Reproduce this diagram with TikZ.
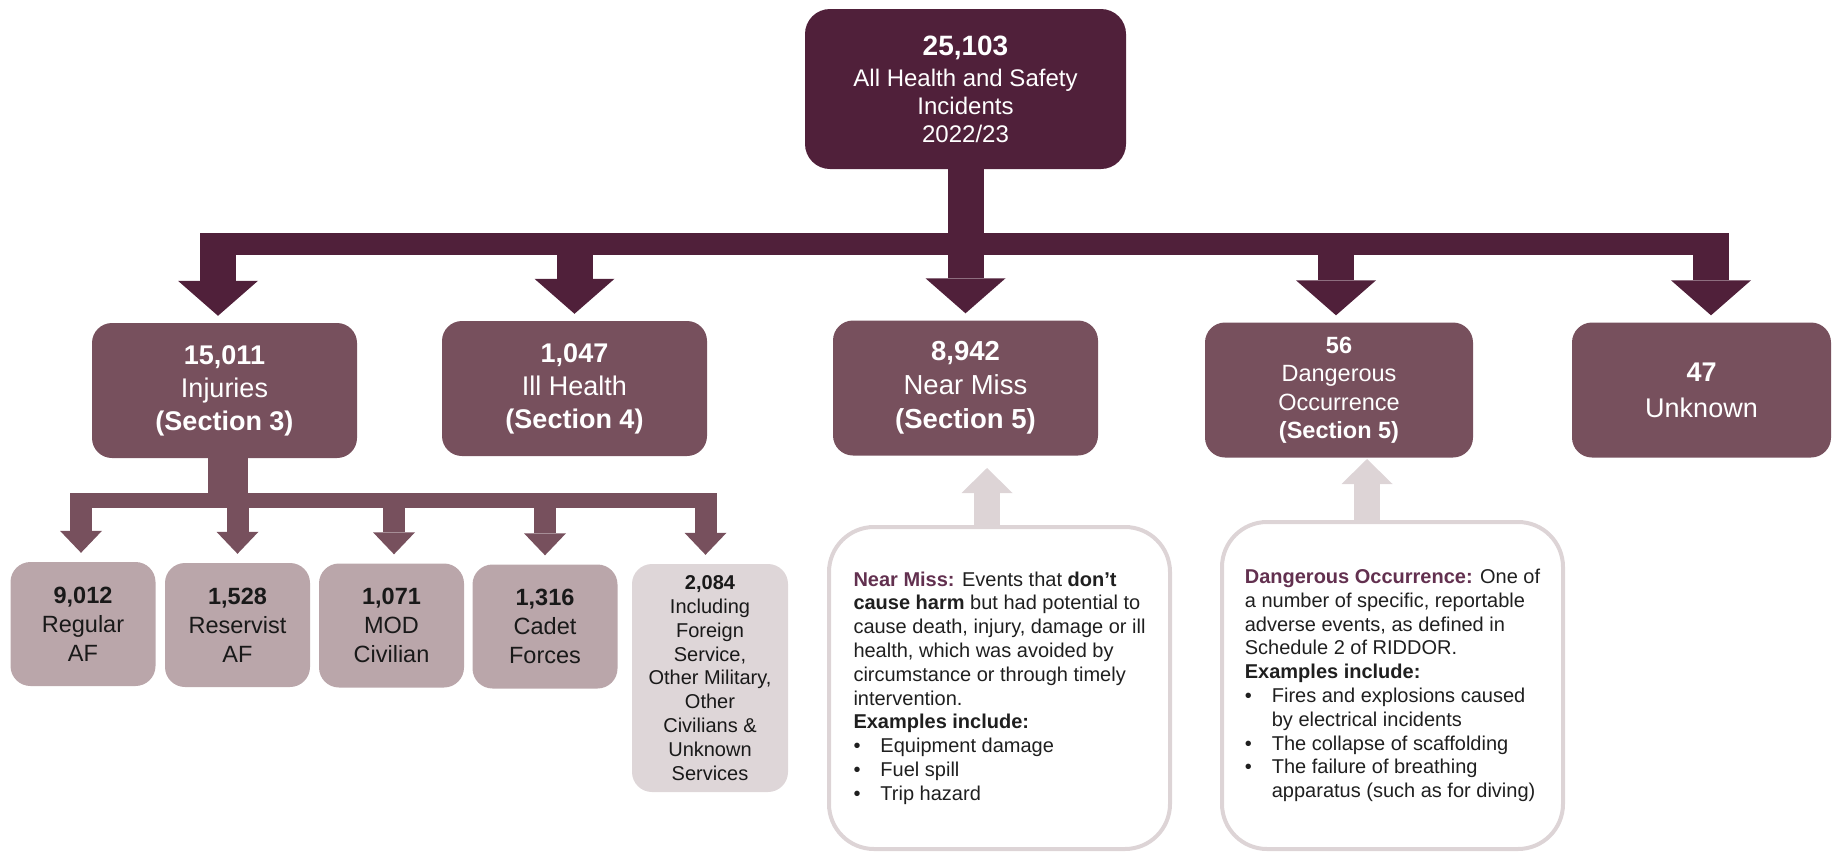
\documentclass[tikz,border=0pt]{standalone}
\usepackage{fontspec}
\setmainfont{Liberation Sans}
\usetikzlibrary{arrows.meta,calc}

\definecolor{plumdark}{HTML}{50203A}
\definecolor{plummid}{HTML}{77505D}
\definecolor{plumlight}{HTML}{BAA6AA}
\definecolor{plumpale}{HTML}{DED6D8}
\definecolor{greyline}{HTML}{DDD4D6}
\definecolor{plumlabel}{HTML}{62304F}

\newcommand{\bul}{\makebox[27pt][l]{\textbullet}}

\tikzset{
    topbox/.style={fill=plumdark, text=white, rounded corners=25pt, minimum width=321pt, minimum height=160pt, align=center, font=\fontsize{24}{28}\selectfont},
    catbox/.style={fill=plummid, text=white, rounded corners=20pt, minimum width=265pt, minimum height=135pt, align=center, font=\fontsize{27}{33}\selectfont},
    subbox/.style={fill=plumlight, text=black!90, rounded corners=20pt, minimum width=145pt, minimum height=124pt, align=center, font=\fontsize{23.5}{29}\selectfont},
    notebox/.style={draw=greyline, line width=4pt, rounded corners=45pt, minimum width=341pt, text=black!88, align=left, font=\fontsize{20}{23.8}\selectfont},
    mainarrow/.style={plumdark, line width=36pt, -{Triangle[width=80pt,length=35pt,line width=0pt]}},
    mainbar/.style={plumdark, line width=22pt},
    subarrow/.style={plummid, line width=22pt, -{Triangle[width=42pt,length=22pt,line width=0pt]}},
    subbar/.style={plummid, line width=15pt},
    uparrow/.style={greyline, line width=26pt, -{Triangle[width=51pt,length=25pt,line width=0pt]}}
}

\begin{document}
\begin{tikzpicture}[x=1pt, y=-1pt]
    \useasboundingbox (0,0) rectangle (1833,854);

    % totals
    \node[topbox] (top) at (965.5,89) {\textbf{\fontsize{28}{31}\selectfont 25,103}\\[3pt] All Health and Safety\\ Incidents\\ 2022/23};

    \node[catbox] (inj) at (224.5,390.5) {\textbf{15,011}\\ Injuries\\ \textbf{(Section 3)}};
    \node[catbox] (ill) at (574.5,388.5) {\textbf{1,047}\\ Ill Health\\ \textbf{(Section 4)}};
    \node[catbox, font=\fontsize{27.5}{34}\selectfont] (nm) at (965.5,388) {\textbf{8,942}\\ Near Miss\\ \textbf{(Section 5)}};
    \node[catbox, minimum width=268pt, font=\fontsize{23.5}{28.5}\selectfont] (dang) at (1339,390) {\textbf{56}\\ Dangerous\\ Occurrence\\ \textbf{(Section 5)}};
    \node[catbox, minimum width=259pt, font=\fontsize{27}{36}\selectfont] (unkn) at (1701.5,390) {\textbf{47}\\ Unknown};

    % injuries by service
    \node[subbox] (reg) at (83,624) {\textbf{9,012}\\ Regular\\ AF};
    \node[subbox] (res) at (237.5,625) {\textbf{1,528}\\ Reservist\\ AF};
    \node[subbox] (civ) at (391.5,625.5) {\textbf{1,071}\\ MOD\\ Civilian};
    \node[subbox] (cad) at (545,626.5) {\textbf{1,316}\\ Cadet\\ Forces};
    \node[subbox, fill=plumpale, minimum width=156pt, minimum height=228pt, font=\fontsize{20}{23.8}\selectfont] (oth) at (710,678) {\textbf{2,084}\\ Including\\ Foreign\\ Service,\\ Other Military,\\ Other\\ Civilians \&\\ Unknown\\ Services};

    % definitions
    \node[notebox, minimum height=322pt] (nmnote) at (999.5,688) {\textcolor{plumlabel}{\textbf{Near Miss:}} Events that \textbf{don't}\\
        \textbf{cause harm} but had potential to\\
        cause death, injury, damage or ill\\
        health, which was avoided by\\
        circumstance or through timely\\
        intervention.\\
        \textbf{Examples include:}\\
        \bul Equipment damage\\
        \bul Fuel spill\\
        \bul Trip hazard};
    \node[notebox, minimum height=327pt] (donote) at (1392.5,685.5) {\textcolor{plumlabel}{\textbf{Dangerous Occurrence:}} One of\\
        a number of specific, reportable\\
        adverse events, as defined in\\
        Schedule 2 of RIDDOR.\\
        \textbf{Examples include:}\\
        \bul Fires and explosions caused\\
        \hspace*{27pt}by electrical incidents\\
        \bul The collapse of scaffolding\\
        \bul The failure of breathing\\
        \hspace*{27pt}apparatus (such as for diving)};

    % main arrows
    \coordinate (junction) at (965.5,244);
    \draw[mainarrow] (top.south) -- ([yshift=7pt]nm.north);
    \draw[mainbar] ([xshift=-24.5pt]inj.north |- junction) -- ([xshift=27.5pt]unkn.north |- junction);
    \draw[mainarrow] ([xshift=-6.5pt]inj.north |- junction) -- ([xshift=-6.5pt,yshift=7pt]inj.north);
    \draw[mainarrow] (ill.north |- junction) -- ([yshift=7pt]ill.north);
    \draw[mainarrow] ([xshift=-3pt]dang.north |- junction) -- ([xshift=-3pt,yshift=7pt]dang.north);
    \draw[mainarrow] ([xshift=9.5pt]unkn.north |- junction) -- ([xshift=9.5pt,yshift=7pt]unkn.north);

    % injury arrows
    \coordinate (subjunction) at (228,500.5);
    \draw[subbar, line width=40pt] ([xshift=3.5pt]inj.south) -- (subjunction);
    \draw[subbar] ([xshift=-13pt]reg.north |- subjunction) -- ([xshift=6.5pt]oth.north |- subjunction);
    \draw[subarrow] ([xshift=-2pt]reg.north |- subjunction) -- ([xshift=-2pt,yshift=9pt]reg.north);
    \draw[subarrow] (res.north |- subjunction) -- ([yshift=9pt]res.north);
    \draw[subarrow] ([xshift=2.5pt]civ.north |- subjunction) -- ([xshift=2.5pt,yshift=9pt]civ.north);
    \draw[subarrow] (cad.north |- subjunction) -- ([yshift=9pt]cad.north);
    \draw[subarrow] ([xshift=-4.5pt]oth.north |- subjunction) -- ([xshift=-4.5pt,yshift=9pt]oth.north);

    % pointers from the definitions
    \coordinate (nmtip) at (987,468);
    \coordinate (dotip) at (1367,459);
    \draw[uparrow] (nmnote.north -| nmtip) -- (nmtip);
    \draw[uparrow] (donote.north -| dotip) -- (dotip);

\end{tikzpicture}
\end{document}
